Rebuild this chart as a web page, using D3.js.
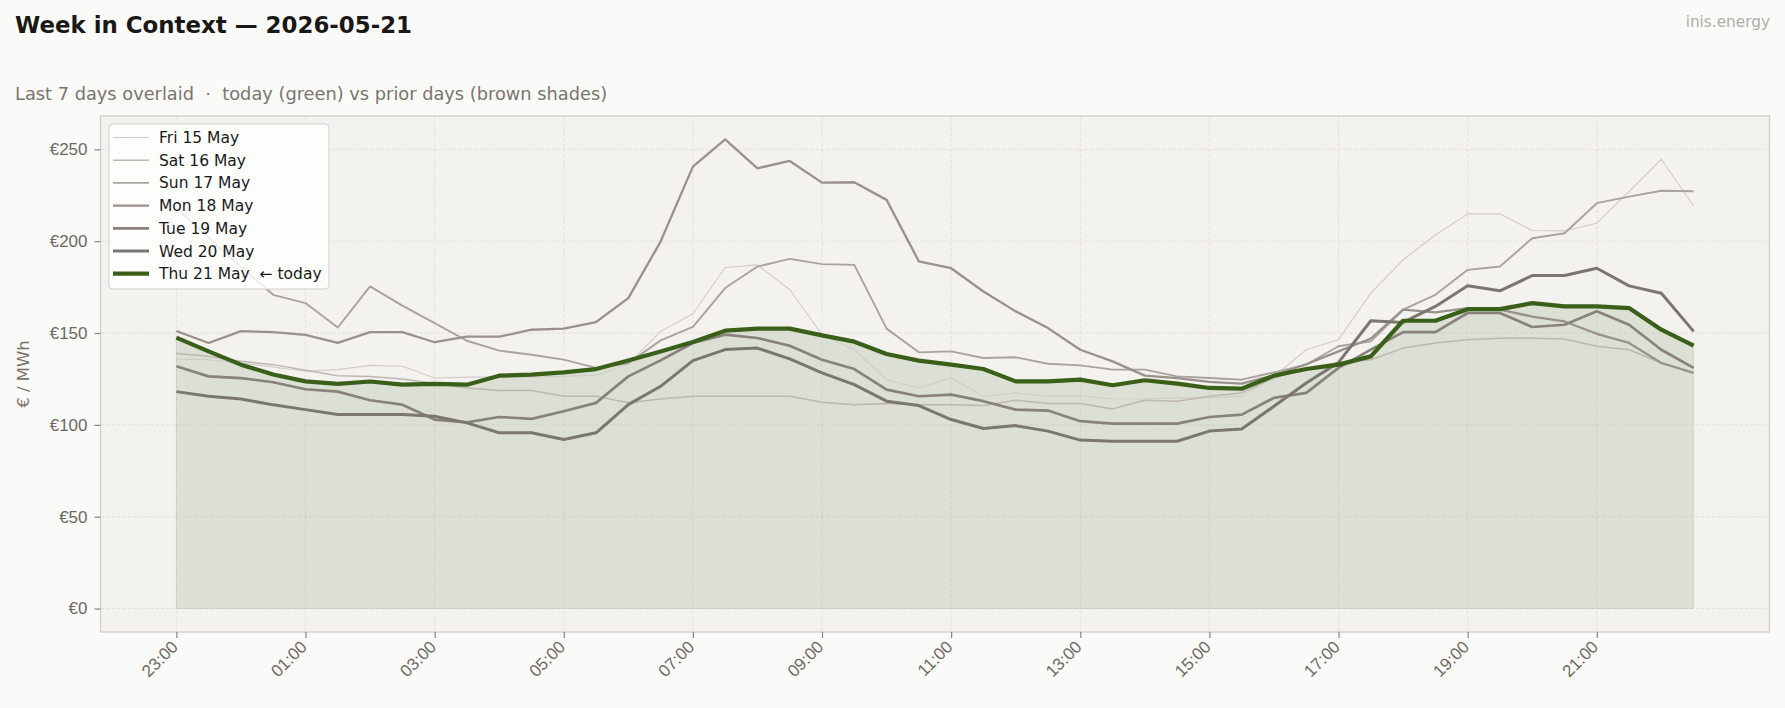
<!DOCTYPE html>
<html>
<head>
<meta charset="utf-8">
<script src="https://cdn.jsdelivr.net/npm/d3@7"></script>
<style>
  body { margin: 0; background: #fafaf8; }
  svg { display: block; font-family: "DejaVu Sans", sans-serif; }
</style>
</head>
<body>
<div id="graph"></div>
<script>
// half-hour slots of the trading day
const slots = ["23:00","23:30","00:00","00:30","01:00","01:30","02:00","02:30","03:00","03:30",
  "04:00","04:30","05:00","05:30","06:00","06:30","07:00","07:30","08:00","08:30",
  "09:00","09:30","10:00","10:30","11:00","11:30","12:00","12:30","13:00","13:30",
  "14:00","14:30","15:00","15:30","16:00","16:30","17:00","17:30","18:00","18:30",
  "19:00","19:30","20:00","20:30","21:00","21:30","22:00","22:30"];
const xTickLabels = ["23:00","01:00","03:00","05:00","07:00","09:00","11:00","13:00","15:00","17:00","19:00","21:00"];
const yTickValues = [0, 50, 100, 150, 200, 250];

const fri15 = [135.9,135.5,133.7,131.5,129.2,130.1,132.4,131.9,125.5,126.0,126.0,126.0,126.4,127.0,133.0,150.9,
  160.5,185.7,187.1,173.6,149.1,141.0,124.6,120.1,125.5,115.6,117.4,115.6,115.9,114.1,114.1,114.7,
  114.7,115.6,126.4,140.9,146.4,171.7,189.9,203.4,214.9,214.9,205.8,205.6,209.8,227.0,244.6,219.2];
const sat16 = [138.8,137.3,134.6,132.8,129.7,126.8,126.4,125.0,122.5,120.1,118.7,118.7,115.6,115.6,112.0,114.1,
  115.6,115.6,115.6,115.6,112.3,111.0,111.6,111.0,111.0,110.5,113.4,111.6,111.6,108.7,113.4,112.9,
  115.6,117.4,125.5,131.0,134.0,135.5,141.8,144.6,146.4,147.1,147.1,146.7,142.8,140.9,133.7,128.3];
const sun17 = [218.0,202.0,186.0,170.8,166.3,153.0,175.4,164.9,155.4,145.8,140.4,138.2,135.5,131.0,133.5,146.0,
  153.3,174.5,186.2,190.4,187.5,187.1,152.4,139.5,140.0,136.4,136.8,133.3,132.4,130.1,130.1,126.4,
  125.5,124.6,128.6,132.8,142.8,145.5,162.7,170.8,184.4,186.2,201.6,204.3,220.7,224.3,227.5,227.2];
const mon18 = [151.1,144.6,151.0,150.5,149.0,144.6,150.5,150.5,145.0,148.0,148.0,151.8,152.4,156.0,169.0,199.8,
  240.6,255.4,239.7,243.7,231.9,232.1,222.5,189.0,185.3,172.6,161.8,152.7,140.9,134.6,126.8,125.5,
  123.4,122.5,127.0,133.0,140.0,147.0,162.7,161.2,163.6,162.7,159.0,156.3,149.6,144.6,133.7,128.3];
const tue19 = [131.9,126.4,125.5,123.2,119.4,118.1,113.4,111.0,102.9,101.4,104.3,103.3,107.4,112.0,126.4,135.1,
  144.6,149.1,147.3,143.1,135.5,130.4,119.2,115.6,116.5,112.9,108.3,107.8,102.0,100.7,100.7,100.7,
  104.3,105.6,114.7,117.4,131.0,141.0,150.5,150.5,160.9,160.9,153.3,154.5,161.8,154.5,140.9,131.0];
const wed20 = [118.1,115.6,114.1,110.9,108.3,105.6,105.6,105.6,104.7,101.1,95.7,95.7,92.0,95.7,111.0,121.0,
  135.0,141.0,141.8,135.9,128.3,121.9,112.9,110.5,102.9,98.0,99.6,96.6,91.7,91.1,91.1,91.1,
  96.6,97.8,110.1,122.8,134.0,156.7,155.8,164.5,175.7,173.0,181.3,181.3,185.3,175.7,171.7,150.9];
const thu21 = [147.5,140.0,132.8,127.4,123.7,122.3,123.6,121.9,122.3,121.9,126.8,127.4,128.6,130.4,135.1,140.0,
  145.1,151.3,152.4,152.4,148.7,145.3,138.6,135.0,132.8,130.4,123.7,123.7,124.6,121.6,124.3,122.5,
  120.1,119.7,126.8,130.4,132.8,137.3,156.7,156.7,163.0,163.0,166.3,164.5,164.5,163.6,151.8,143.1];

const dayNames = ["Fri 15 May","Sat 16 May","Sun 17 May","Mon 18 May","Tue 19 May","Wed 20 May","Thu 21 May  \u2190 today"];

const series = [
  {name: dayNames[0], values: fri15, color: '#d0cbc7', width: 1.1},
  {name: dayNames[1], values: sat16, color: '#bdb6b1', width: 1.5},
  {name: dayNames[2], values: sun17, color: '#aaa29d', width: 1.9},
  {name: dayNames[3], values: mon18, color: '#9a918c', width: 2.3},
  {name: dayNames[4], values: tue19, color: '#88817c', width: 2.7},
  {name: dayNames[5], values: wed20, color: '#7b7672', width: 3.0},
  {name: dayNames[6], values: thu21, color: '#3a5f18', width: 4.2}
];

const width = 1785, height = 708;
const plot = {left: 100.5, right: 1769.5, top: 116, bottom: 632};

const svg = d3.select('#graph')
  .append('svg')
    .attr('width', width)
    .attr('height', height);

const n = slots.length;
const xPad = (n - 1) * 0.05;
const x = d3.scaleLinear()
  .domain([-xPad, n - 1 + xPad])
  .range([plot.left, plot.right]);

const yMax = d3.max(series, s => d3.max(s.values));
const y = d3.scaleLinear()
  .domain([-yMax * 0.05, yMax * 1.05])
  .range([plot.bottom, plot.top]);

// titles
svg.append('text')
  .attr('x', 15).attr('y', 33)
  .style('font-size', '22.9px').style('font-weight', 'bold')
  .attr('fill', '#1a1816')
  .text('Week in Context \u2014 2026-05-21');
svg.append('text')
  .attr('x', 15).attr('y', 100)
  .style('font-size', '17.8px').style('white-space', 'pre')
  .attr('fill', '#7a746e')
  .text('Last 7 days overlaid  \u00b7  today (green) vs prior days (brown shades)');
svg.append('text')
  .attr('x', 1770).attr('y', 27)
  .attr('text-anchor', 'end')
  .style('font-size', '15.3px')
  .attr('fill', '#b0adaa')
  .text('inis.energy');

// plot background + frame
svg.append('rect')
  .attr('x', plot.left).attr('y', plot.top)
  .attr('width', plot.right - plot.left).attr('height', plot.bottom - plot.top)
  .attr('fill', '#f3f2ee');

const xTickIdx = xTickLabels.map(l => slots.indexOf(l));

// grid
svg.append('g').selectAll('line')
  .data(xTickIdx)
  .enter().append('line')
    .attr('x1', d => x(d)).attr('x2', d => x(d))
    .attr('y1', plot.top).attr('y2', plot.bottom)
    .attr('stroke', '#e2dfd9').attr('stroke-width', 0.9)
    .attr('stroke-dasharray', '3.5,2');
svg.append('g').selectAll('line')
  .data(yTickValues)
  .enter().append('line')
    .attr('x1', plot.left).attr('x2', plot.right)
    .attr('y1', d => y(d)).attr('y2', d => y(d))
    .attr('stroke', '#e2dfd9').attr('stroke-width', 0.9)
    .attr('stroke-dasharray', '3.5,2');

// fill under today
const area = d3.area()
  .x((d, i) => x(i))
  .y0(y(0))
  .y1(d => y(d));
svg.append('path')
  .datum(thu21)
  .attr('d', area)
  .attr('fill', '#3a5f18').attr('fill-opacity', 0.12)
  .attr('stroke', '#3a5f18').attr('stroke-opacity', 0.1).attr('stroke-width', 1);

const line = d3.line()
  .x((d, i) => x(i))
  .y(d => y(d));

svg.append('g').selectAll('path')
  .data(series)
  .enter().append('path')
    .attr('d', d => line(d.values))
    .attr('fill', 'none')
    .attr('stroke', d => d.color)
    .attr('stroke-width', d => d.width)
    .attr('stroke-linejoin', 'round');

svg.append('rect')
  .attr('x', plot.left).attr('y', plot.top)
  .attr('width', plot.right - plot.left).attr('height', plot.bottom - plot.top)
  .attr('fill', 'none')
  .attr('stroke', '#d2cdc7').attr('stroke-width', 1.3);

// axes
const xAxis = d3.axisBottom(x)
  .tickValues(xTickIdx)
  .tickFormat(i => slots[i])
  .tickSize(6).tickPadding(4);
const gx = svg.append('g')
  .attr('transform', `translate(0,${plot.bottom})`)
  .call(xAxis);
gx.select('.domain').remove();
gx.selectAll('.tick line').attr('stroke', '#8b847e').attr('stroke-width', 1.2);
gx.selectAll('.tick text')
  .attr('fill', '#6f6862')
  .style('font-size', '17px')
  .attr('text-anchor', 'end')
  .attr('dy', null)
  .attr('y', 0)
  .attr('transform', 'translate(2,16) rotate(-45)');

const yAxis = d3.axisLeft(y)
  .tickValues(yTickValues)
  .tickFormat(d => '\u20ac' + d)
  .tickSize(6).tickPadding(7);
const gy = svg.append('g')
  .attr('transform', `translate(${plot.left},0)`)
  .call(yAxis);
gy.select('.domain').remove();
gy.selectAll('.tick line').attr('stroke', '#8b847e').attr('stroke-width', 1.2);
gy.selectAll('.tick text')
  .attr('fill', '#6f6862')
  .style('font-size', '17px');

// y axis title
svg.append('text')
  .attr('transform', `translate(29,${(plot.top + plot.bottom) / 2}) rotate(-90)`)
  .attr('text-anchor', 'middle')
  .style('font-size', '16.5px')
  .attr('fill', '#7a736d')
  .text('\u20ac / MWh');

// legend
const legend = svg.append('g').attr('transform', 'translate(109,124)');
legend.append('rect')
  .attr('width', 220).attr('height', 165)
  .attr('rx', 4)
  .attr('fill', '#ffffff').attr('fill-opacity', 0.8)
  .attr('stroke', '#d4d0cb').attr('stroke-width', 1);
const rows = legend.selectAll('g.row')
  .data(series)
  .enter().append('g')
    .attr('class', 'row')
    .attr('transform', (d, i) => `translate(0,${13.5 + i * 22.7})`);
rows.append('line')
  .attr('x1', 4).attr('x2', 40)
  .attr('stroke', d => d.color)
  .attr('stroke-width', d => d.width);
rows.append('text')
  .attr('x', 50).attr('y', 5.5)
  .style('font-size', '15.5px').style('white-space', 'pre')
  .attr('fill', '#1a1a1a')
  .text(d => d.name);
</script>
</body>
</html>
